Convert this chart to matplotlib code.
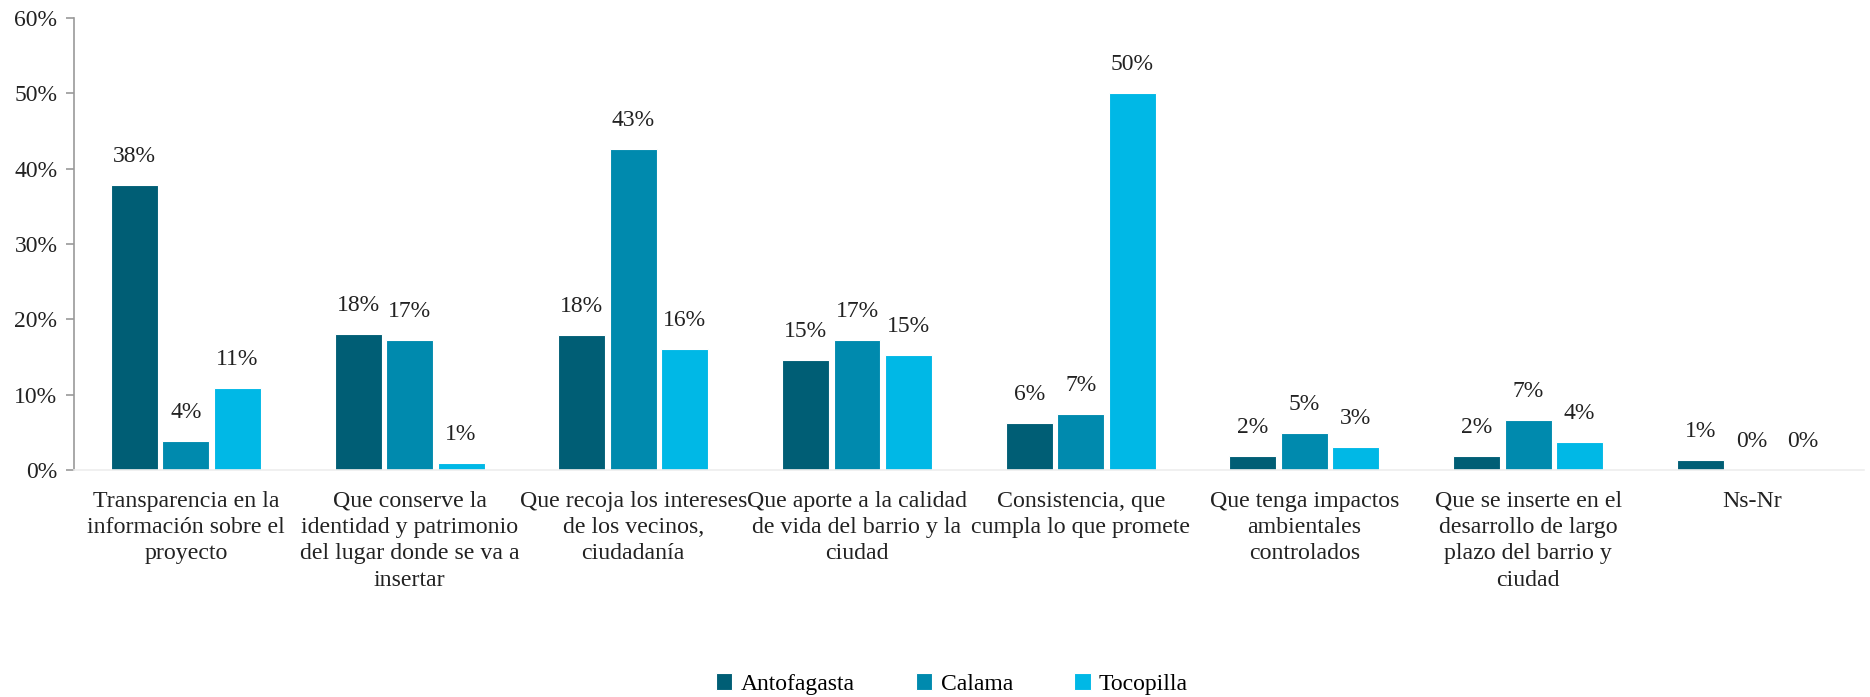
import matplotlib
matplotlib.use("Agg")
import matplotlib.pyplot as plt
import numpy as np
from matplotlib.ticker import FuncFormatter, MultipleLocator

categories = [
    "Transparencia en la\ninformación sobre el\nproyecto",
    "Que conserve la\nidentidad y patrimonio\ndel lugar donde se va a\ninsertar",
    "Que recoja los intereses\nde los vecinos,\nciudadanía",
    "Que aporte a la calidad\nde vida del barrio y la\nciudad",
    "Consistencia, que\ncumpla lo que promete",
    "Que tenga impactos\nambientales\ncontrolados",
    "Que se inserte en el\ndesarrollo de largo\nplazo del barrio y\nciudad",
    "Ns-Nr",
]
series_names = ["Antofagasta", "Calama", "Tocopilla"]
antofagasta = [0.378, 0.181, 0.179, 0.146, 0.062, 0.019, 0.019, 0.013]
calama = [0.039, 0.173, 0.426, 0.172, 0.074, 0.049, 0.066, 0.0]
tocopilla = [0.109, 0.009, 0.160, 0.153, 0.500, 0.030, 0.037, 0.0]
colors = ["#005E75", "#008AAE", "#00B8E6"]

plt.rcParams['font.family'] = ['Liberation Serif', 'DejaVu Serif']
fs = 17
fs_cat = 17.2

fig = plt.figure(figsize=(18.7, 6.97), dpi=100)
ax = fig.add_axes([0.0396, 0.3257, 0.957, 0.6483])

x = np.arange(len(categories))
w = 0.21
for i, (vals, name, c) in enumerate(zip([antofagasta, calama, tocopilla], series_names, colors)):
    pos = x + (i - 1) * (w + 0.02)
    ax.bar(pos, vals, width=w, color=c, label=name, edgecolor='white', linewidth=0.8)
    for p, v in zip(pos, vals):
        ax.annotate(f"{v*100:.0f}%", (p, v), xytext=(0, 13), textcoords='offset points',
                    ha='center', va='bottom', fontsize=fs, color='#222222')

ax.set_xlim(-0.5, len(categories) - 0.5)
ax.set_ylim(0, 0.6)
ax.yaxis.set_major_locator(MultipleLocator(0.1))
ax.yaxis.set_major_formatter(FuncFormatter(lambda v, p: f"{v*100:.0f}%"))
ax.set_xticks(x)
ax.set_xticklabels(categories, fontsize=fs_cat, linespacing=1.33, va='top', color='#222222')
ax.tick_params(axis='x', length=0, pad=15)
ax.tick_params(axis='y', labelsize=fs, length=6, color='#999999', width=1.2, pad=6,
               labelcolor='#222222')
ax.spines['top'].set_visible(False)
ax.spines['right'].set_visible(False)
ax.spines['left'].set_color('#999999')
ax.spines['left'].set_linewidth(1.2)
ax.spines['bottom'].set_color('#EEEEEE')
ax.spines['bottom'].set_linewidth(1.2)

fig.legend(loc='center', bbox_to_anchor=(0.509, 0.019), ncol=3, frameon=False,
           fontsize=fs, handlelength=0.7, handleheight=0.7, columnspacing=2.6,
           handletextpad=0.35)

fig.savefig("out.png", dpi=100)
